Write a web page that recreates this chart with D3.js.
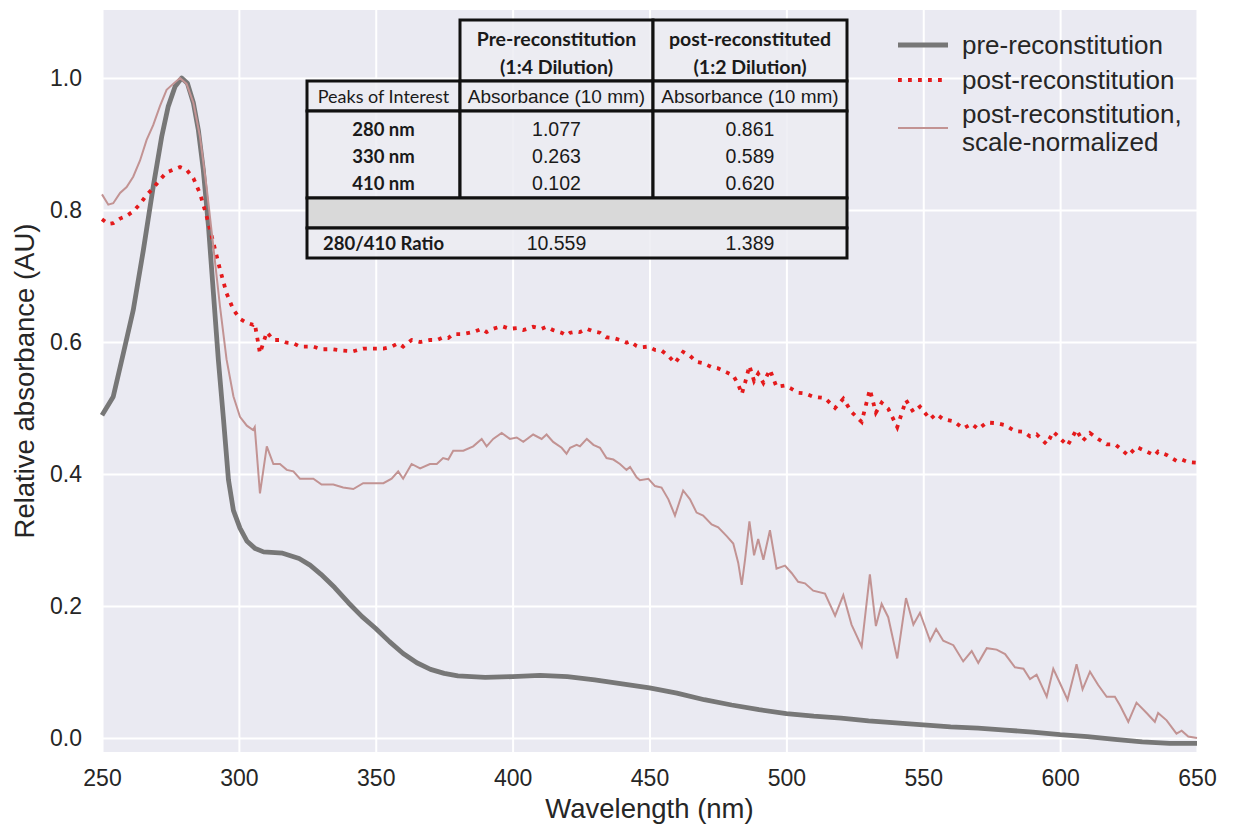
<!DOCTYPE html>
<html lang="en">
<head>
    <meta charset="UTF-8">
    <title>Relative absorbance</title>
    <script src="https://d3js.org/d3.v7.min.js"></script>
    <style>
        body { margin: 0; background: white; }
        text { font-family: "Liberation Sans", Arial, sans-serif; fill: #262626; }
        .tbl text { font-family: Lato, "Noto Sans", sans-serif; fill: #1a1a1a; }
        .tbl .num { font-family: "Liberation Sans", Arial, sans-serif; }
    </style>
</head>
<body>
<svg height="828" width="1233"></svg>

<script>
    // pre-reconstitution spectrum (normalized to its 280 nm peak)
    const preNm  = [250, 254.1, 257.8, 261.4, 265.1, 268.7, 271.8, 274.2, 276.7, 279.1, 281.2, 283.4, 285.2, 287.0,
                    288.9, 290.7, 292.5, 294.4, 296.2, 298, 300.4, 303, 306, 309, 316, 322, 326, 330, 335, 340, 345,
                    350, 355, 360, 365, 370, 375, 380, 390, 400, 410, 420, 430, 440, 450, 460, 470, 480, 490, 500,
                    510, 520, 530, 540, 550, 560, 570, 580, 590, 600, 610, 620, 630, 640, 650];
    const preAbs = [0.489, 0.517, 0.583, 0.648, 0.739, 0.835, 0.911, 0.957, 0.987, 1.000, 0.992, 0.962, 0.921, 0.861,
                    0.775, 0.674, 0.573, 0.482, 0.391, 0.345, 0.318, 0.298, 0.287, 0.282, 0.280, 0.272, 0.262, 0.248,
                    0.228, 0.205, 0.184, 0.166, 0.146, 0.128, 0.114, 0.104, 0.098, 0.094, 0.092, 0.093, 0.095, 0.093,
                    0.088, 0.082, 0.076, 0.068, 0.058, 0.050, 0.043, 0.037, 0.033, 0.030, 0.026, 0.023, 0.020, 0.017,
                    0.015, 0.012, 0.009, 0.005, 0.002, -0.002, -0.006, -0.008, -0.008];

    // post-reconstitution spectrum (same scale as pre)
    const postNm  = [250, 252.3, 254.1, 256.6, 259.0, 261.4, 263.9, 266.3, 268.7, 271.2, 273.6, 276.0, 278.5, 280.9,
                     283.4, 285.8, 288.2, 290.7, 293.1, 295.5, 298.0, 300.4, 302.9, 305.2, 305.8, 307.7, 310.2, 312.6,
                     315.0, 317.5, 319.9, 322.3, 327.2, 330.2, 334.5, 338.1, 341.8, 345.4, 349.1, 352.8, 355.8, 358.2,
                     360.0, 363.1, 366.2, 369.8, 372.3, 374.6, 376.5, 378.3, 382.0, 385.6, 388.7, 390.5, 392.9, 396.0,
                     399.0, 401.5, 403.9, 407.5, 410.6, 412.4, 414.8, 417.9, 419.7, 421.0, 423.4, 424.6, 427.1, 429.5,
                     431.9, 434.3, 436.8, 439.2, 441.6, 442.9, 445.3, 446.5, 449.6, 452.0, 454.4, 456.9, 459.3, 462.3,
                     464.8, 467.2, 469.6, 472.7, 475.1, 478.2, 480.6, 482.4, 483.7, 484.9, 486.5, 488.2, 489.7, 491.6,
                     494.0, 496.4, 499.5, 501.9, 504.3, 506.8, 509.8, 514.1, 517.8, 520.8, 523.8, 527.5, 530.5, 532.7,
                     534.8, 537.2, 540.5, 543.7, 546.4, 548.8, 552.5, 554.7, 557.3, 561.0, 564.6, 567.7, 570.1, 573.2,
                     576.8, 579.9, 583.5, 586.6, 589.0, 591.4, 595.1, 597.5, 600.0, 602.7, 606.0, 608.2, 610.9, 613.9,
                     617.0, 620.0, 621.9, 624.9, 627.9, 631.6, 634.6, 635.8, 638.9, 642.5, 644.4, 646.8, 650];
    const postAbs = [0.786, 0.779, 0.780, 0.787, 0.791, 0.798, 0.809, 0.823, 0.833, 0.846, 0.857, 0.861, 0.865, 0.861,
                     0.848, 0.825, 0.791, 0.750, 0.710, 0.674, 0.649, 0.635, 0.629, 0.626, 0.628, 0.583, 0.615, 0.603,
                     0.603, 0.599, 0.598, 0.593, 0.593, 0.589, 0.589, 0.587, 0.586, 0.590, 0.590, 0.590, 0.593, 0.598,
                     0.593, 0.603, 0.600, 0.603, 0.603, 0.607, 0.606, 0.612, 0.612, 0.615, 0.620, 0.615, 0.620, 0.624,
                     0.620, 0.621, 0.618, 0.623, 0.620, 0.623, 0.618, 0.614, 0.610, 0.614, 0.616, 0.615, 0.620, 0.616,
                     0.614, 0.607, 0.606, 0.603, 0.599, 0.601, 0.594, 0.592, 0.593, 0.588, 0.587, 0.579, 0.568, 0.585,
                     0.579, 0.570, 0.568, 0.562, 0.560, 0.554, 0.549, 0.536, 0.521, 0.538, 0.564, 0.541, 0.552, 0.538,
                     0.558, 0.532, 0.534, 0.529, 0.523, 0.522, 0.517, 0.515, 0.500, 0.514, 0.494, 0.479, 0.528, 0.493,
                     0.508, 0.499, 0.471, 0.512, 0.494, 0.502, 0.483, 0.491, 0.483, 0.480, 0.469, 0.476, 0.468, 0.478,
                     0.477, 0.474, 0.465, 0.464, 0.457, 0.460, 0.445, 0.464, 0.454, 0.443, 0.467, 0.450, 0.462, 0.453,
                     0.445, 0.445, 0.439, 0.428, 0.441, 0.434, 0.428, 0.434, 0.429, 0.420, 0.422, 0.418, 0.417];

    const xTicks = [250, 300, 350, 400, 450, 500, 550, 600, 650];
    const yTicks = [0.0, 0.2, 0.4, 0.6, 0.8, 1.0];
    const legendLabels = [["pre-reconstitution"], ["post-reconstitution"], ["post-reconstitution,", "scale-normalized"]];

    // inset table
    const tableHead = [["Pre-reconstitution", "(1:4 Dilution)"], ["post-reconstituted", "(1:2 Dilution)"]];
    const subHead   = ["Peaks of Interest", "Absorbance (10 mm)", "Absorbance (10 mm)"];
    const peaks     = ["280 nm", "330 nm", "410 nm"];
    const preTable  = ["1.077", "0.263", "0.102"];
    const postTable = ["0.861", "0.589", "0.620"];
    const ratioRow  = ["280/410 Ratio", "10.559", "1.389"];

    const svg = d3.select("svg");
    const pLeft = 102, pRight = 1197, pTop = 10, pBottom = 752;

    const x = d3.scaleLinear().domain([250, 650]).range([pLeft, pRight]);
    const y = d3.scaleLinear().domain([-0.0212, 1.103]).range([pBottom, pTop]);

    // scale-normalized post curve (min-max of the post spectrum)
    const [lo, hi] = d3.extent(postAbs);
    const postNorm = postAbs.map(v => (v - lo) / (hi - lo));

    svg.append("rect")
        .attr("x", pLeft).attr("y", pTop)
        .attr("width", pRight - pLeft).attr("height", pBottom - pTop)
        .attr("fill", "#eaeaf2");

    // grid
    svg.append("g")
        .attr("transform", `translate(0,${pBottom})`)
        .call(d3.axisBottom(x).tickValues(xTicks).tickSize(-(pBottom - pTop)).tickFormat(""))
        .call(g => g.select(".domain").remove())
        .selectAll("line").attr("stroke", "white").attr("stroke-width", 2);
    svg.append("g")
        .attr("transform", `translate(${pLeft},0)`)
        .call(d3.axisLeft(y).tickValues(yTicks).tickSize(-(pRight - pLeft)).tickFormat(""))
        .call(g => g.select(".domain").remove())
        .selectAll("line").attr("stroke", "white").attr("stroke-width", 2);

    // tick labels
    svg.append("g")
        .attr("transform", `translate(0,${pBottom})`)
        .call(d3.axisBottom(x).tickValues(xTicks).tickSize(0).tickPadding(18).tickFormat(d3.format("d")))
        .call(g => g.select(".domain").remove())
        .selectAll("text").attr("font-size", 23).attr("fill", "#262626")
        .attr("font-family", "Liberation Sans, Arial, sans-serif");
    svg.append("g")
        .attr("transform", `translate(${pLeft},0)`)
        .call(d3.axisLeft(y).tickValues(yTicks).tickSize(0).tickPadding(20).tickFormat(d3.format(".1f")))
        .call(g => g.select(".domain").remove())
        .selectAll("text").attr("font-size", 23).attr("fill", "#262626")
        .attr("font-family", "Liberation Sans, Arial, sans-serif");

    svg.append("text")
        .attr("x", (pLeft + pRight) / 2).attr("y", 818)
        .attr("text-anchor", "middle").attr("font-size", 27.5)
        .text("Wavelength (nm)");
    svg.append("text")
        .attr("transform", `translate(34,${(pTop + pBottom) / 2}) rotate(-90)`)
        .attr("text-anchor", "middle").attr("font-size", 27.5)
        .text("Relative absorbance (AU)");

    // curves
    const line = d3.line().x(d => x(d[0])).y(d => y(d[1]));
    svg.append("path")
        .datum(d3.zip(preNm, preAbs))
        .attr("d", line)
        .attr("fill", "none").attr("stroke", "#777777").attr("stroke-width", 4.8)
        .attr("stroke-linejoin", "round");
    svg.append("path")
        .datum(d3.zip(postNm, postAbs))
        .attr("d", line)
        .attr("fill", "none").attr("stroke", "#e41a1c").attr("stroke-width", 3.8)
        .attr("stroke-dasharray", "3.8 6.2");
    svg.append("path")
        .datum(d3.zip(postNm, postNorm))
        .attr("d", line)
        .attr("fill", "none").attr("stroke", "#c29393").attr("stroke-width", 2);

    // legend
    const legend = svg.append("g").attr("transform", "translate(898,0)");
    const legendStyles = [
        {stroke: "#777777", width: 4.8, dash: null, y: 45},
        {stroke: "#e41a1c", width: 3.8, dash: "3.8 6.2", y: 80},
        {stroke: "#c29393", width: 2, dash: null, y: 128}
    ];
    legendLabels.forEach((lbl, i) => {
        const s = legendStyles[i];
        legend.append("line")
            .attr("x1", 0).attr("x2", 50).attr("y1", s.y).attr("y2", s.y)
            .attr("stroke", s.stroke).attr("stroke-width", s.width)
            .attr("stroke-dasharray", s.dash);
        const t = legend.append("text")
            .attr("x", 64).attr("y", s.y - (lbl.length - 1) * 14)
            .attr("font-size", 26).attr("dominant-baseline", "central");
        lbl.forEach((l, j) => t.append("tspan").attr("x", 64).attr("dy", j ? 28 : 0).text(l));
    });

    // inset table
    const tbl = svg.append("g").attr("class", "tbl");
    const cx = [307, 460, 653, 847];
    const ry = [20, 81, 111, 198, 228, 258];
    const cell = (x0, y0, x1, y1, fill) => tbl.append("rect")
        .attr("x", x0).attr("y", y0).attr("width", x1 - x0).attr("height", y1 - y0)
        .attr("fill", fill).attr("stroke", "#111").attr("stroke-width", 3);
    const bg = "rgba(236,236,242,0.85)";
    cell(cx[1], ry[0], cx[2], ry[1], bg);
    cell(cx[2], ry[0], cx[3], ry[1], bg);
    for (let c = 0; c < 3; c++) {
        cell(cx[c], ry[1], cx[c + 1], ry[2], bg);
        cell(cx[c], ry[2], cx[c + 1], ry[3], bg);
    }
    cell(cx[0], ry[3], cx[3], ry[4], "#d9d9d9");
    cell(cx[0], ry[4], cx[3], ry[5], bg);

    const mid = c => (cx[c] + cx[c + 1]) / 2;
    const txt = (tx, ty, s, size, weight, cls) => tbl.append("text")
        .attr("class", cls || null)
        .attr("x", tx).attr("y", ty).attr("text-anchor", "middle")
        .attr("dominant-baseline", "central")
        .attr("font-size", size).attr("font-weight", weight || "normal")
        .text(s);

    tableHead.forEach((h, i) => {
        txt(mid(i + 1), 38, h[0], 19.5, "bold");
        txt(mid(i + 1), 66, h[1], 19.5, "bold");
    });
    subHead.forEach((s, i) => txt(mid(i), 96, s, i ? 19 : 18, "normal", i ? "num" : null));
    peaks.forEach((p, i) => {
        const ty = 129 + i * 27;
        txt(mid(0), ty, p, 18.5, "bold");
        txt(mid(1), ty, preTable[i], 19.5, "normal", "num");
        txt(mid(2), ty, postTable[i], 19.5, "normal", "num");
    });
    txt(mid(0), 243, ratioRow[0], 18.5, "bold");
    txt(mid(1), 243, ratioRow[1], 19.5, "normal", "num");
    txt(mid(2), 243, ratioRow[2], 19.5, "normal", "num");
</script>

</body>
</html>
